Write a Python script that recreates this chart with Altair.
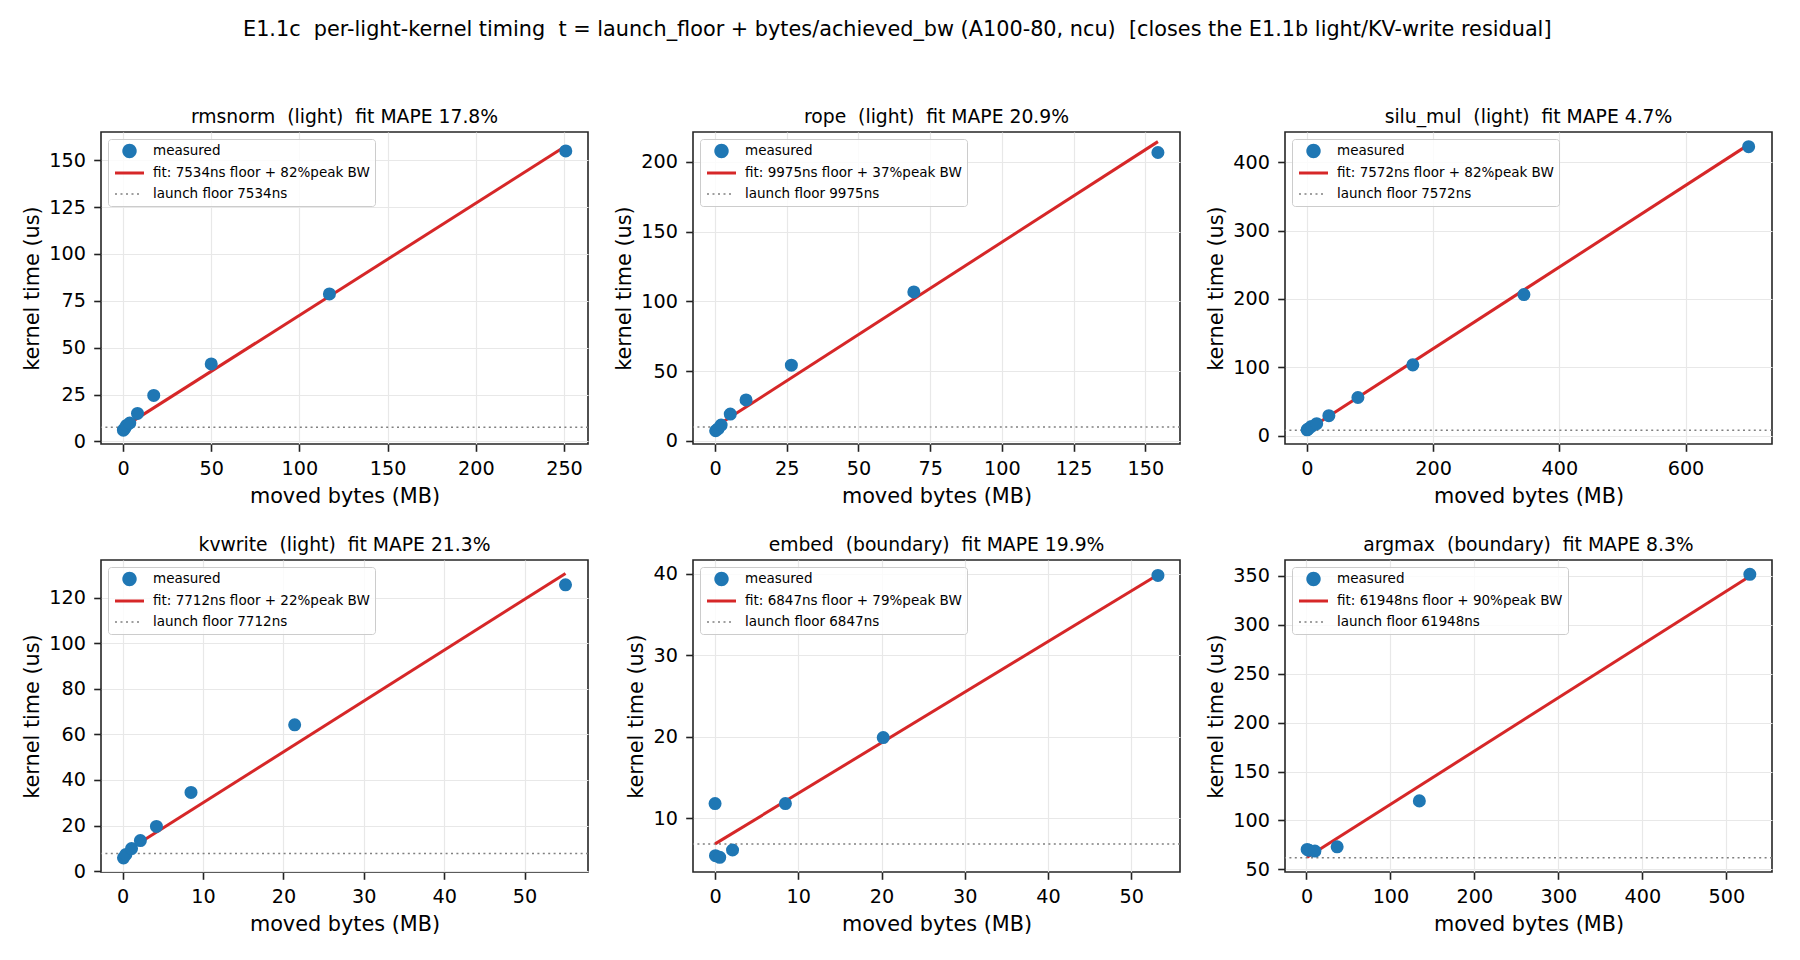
import altair as alt
import pandas as pd

FONT = "DejaVu Sans"
BLUE, RED, GRAY = "#1f77b4", "#d62728", "#808080"
NB2 = " \u00a0"  # keeps the double spaces of the original titles visible

SUPTITLE = ("E1.1c  per-light-kernel timing  t = launch_floor + bytes/achieved_bw "
            "(A100-80, ncu)  [closes the E1.1b light/KV-write residual]")

# ---- per-panel metadata ----
names = ["rmsnorm", "rope", "silu_mul", "kvwrite", "embed", "argmax"]
kinds = ["light", "light", "light", "light", "boundary", "boundary"]
mape = ["17.8", "20.9", "4.7", "21.3", "19.9", "8.3"]
floor_ns = [7534, 9975, 7572, 7712, 6847, 61948]
peak_pct = [82, 37, 82, 22, 79, 90]

# ---- measured points (moved MB, kernel us) ----
rms_x = [0.2, 1.0, 2.0, 3.8, 8.2, 17.4, 50.0, 117.0, 251.0]
rms_y = [6.0, 7.0, 8.5, 9.8, 14.9, 24.5, 41.3, 78.7, 155.0]
rope_x = [0.2, 1.0, 2.1, 5.3, 10.8, 26.6, 69.3, 154.4]
rope_y = [7.2, 8.5, 11.3, 19.2, 29.3, 54.2, 106.8, 206.8]
silu_x = [0.5, 2.0, 7.3, 15.7, 35.0, 81.0, 168.0, 344.0, 700.0]
silu_y = [8.4, 9.5, 13.3, 17.3, 29.0, 55.7, 103.5, 206.5, 423.0]
kv_x = [0.1, 0.4, 1.1, 2.2, 4.2, 8.5, 21.4, 55.1]
kv_y = [5.8, 7.3, 9.9, 13.4, 19.6, 34.5, 64.2, 125.6]
emb_x = [0.0, 0.05, 0.56, 2.1, 8.45, 20.2, 53.2]
emb_y = [11.8, 5.4, 5.2, 6.1, 11.8, 19.9, 39.8]
arg_x = [0.8, 3.0, 10.0, 36.5, 134.4, 528.0]
arg_y = [70.4, 69.5, 68.7, 73.1, 120.0, 351.7]

# ---- fit line end points ----
fit_x = [[0.2, 251.0], [0.2, 154.4], [0.5, 700.0], [0.1, 55.1], [0.0, 53.2], [0.8, 528.0]]
fit_y = [[7.6, 157.6], [10.2, 214.6], [7.9, 426.0], [7.9, 130.6], [6.85, 39.9], [62.4, 349.7]]

# ---- axes ----
x_dom = [[-12.5, 263.6], [-7.7, 162.1], [-34.5, 737.0], [-2.7, 57.9], [-2.65, 55.85], [-25.6, 554.4]]
y_dom = [[-1.4, 165.1], [-2.3, 221.5], [-12.4, 444.5], [-0.4, 136.5], [3.4, 41.7], [47.3, 366.3]]
x_ticks = [[0, 50, 100, 150, 200, 250], [0, 25, 50, 75, 100, 125, 150], [0, 200, 400, 600],
           [0, 10, 20, 30, 40, 50], [0, 10, 20, 30, 40, 50], [0, 100, 200, 300, 400, 500]]
y_ticks = [[0, 25, 50, 75, 100, 125, 150], [0, 50, 100, 150, 200], [0, 100, 200, 300, 400],
           [0, 20, 40, 60, 80, 100, 120], [10, 20, 30, 40], [50, 100, 150, 200, 250, 300, 350]]

xs_all = [rms_x, rope_x, silu_x, kv_x, emb_x, arg_x]
ys_all = [rms_y, rope_y, silu_y, kv_y, emb_y, arg_y]

# ---- legend symbol shapes (custom paths, unit = sqrt(size)/2) ----
SYM_SIZE = 170
U = (SYM_SIZE ** 0.5) / 2.0
CX = 9.5 / U
R = 7.2 / U
HALF_LEN = 14.5 / U
SYM_CIRCLE = (f"M{CX + R:.3f},0A{R:.3f},{R:.3f},0,1,1,{CX - R:.3f},0"
              f"A{R:.3f},{R:.3f},0,1,1,{CX + R:.3f},0Z")
lt = 1.5 / U
SYM_LINE = (f"M{CX - HALF_LEN:.3f},{-lt:.3f}H{CX + HALF_LEN:.3f}V{lt:.3f}"
            f"H{CX - HALF_LEN:.3f}Z")
dt = 0.75 / U
dl = 2.0 / U
per = 5.5 / U
parts = []
s = CX - HALF_LEN
while s + dl <= CX + HALF_LEN + 1e-6:
    parts.append(f"M{s:.3f},{-dt:.3f}H{s + dl:.3f}V{dt:.3f}H{s:.3f}Z")
    s += per
SYM_DOTS = "".join(parts)


def keep_spaces(t):
    return t.replace("  ", NB2)


def panel(i):
    lab_m = "measured"
    lab_f = f"fit: {floor_ns[i]}ns floor + {peak_pct[i]}%peak BW"
    lab_l = f"launch floor {floor_ns[i]}ns"
    dom = [lab_m, lab_f, lab_l]

    pts = pd.DataFrame({"x": xs_all[i], "y": ys_all[i], "s": lab_m})
    fit = pd.DataFrame({"x": fit_x[i], "y": fit_y[i], "s": lab_f})
    flo = pd.DataFrame({"y": [floor_ns[i] / 1000.0], "s": lab_l})

    legend = alt.Legend(
        title=None, orient="top-left", offset=7, padding=5, rowPadding=7,
        labelOffset=26, symbolSize=SYM_SIZE, symbolStrokeWidth=0, symbolOpacity=1,
        labelFont=FONT, labelFontSize=13.5, labelColor="black", labelLimit=500,
        fillColor="rgba(255,255,255,0.8)", strokeColor="#cccccc", cornerRadius=3,
    )
    color = alt.Color("s:N", scale=alt.Scale(domain=dom, range=[BLUE, RED, GRAY]), legend=legend)
    shape = alt.Shape("s:N", scale=alt.Scale(domain=dom, range=[SYM_CIRCLE, SYM_LINE, SYM_DOTS]),
                      legend=legend)

    xenc = alt.X("x:Q", scale=alt.Scale(domain=x_dom[i], nice=False, zero=False),
                 axis=alt.Axis(values=x_ticks[i], title="moved bytes (MB)"))
    yenc = alt.Y("y:Q", scale=alt.Scale(domain=y_dom[i], nice=False, zero=False),
                 axis=alt.Axis(values=y_ticks[i], title="kernel time (us)"))

    legend_layer = (alt.Chart(pts).mark_point(filled=True)
                    .encode(x=xenc, y=yenc, color=color, shape=shape)
                    .transform_filter("false"))
    floor_layer = (alt.Chart(flo).mark_rule(strokeWidth=1.5, strokeDash=[2, 3.4])
                   .encode(y=yenc, color=color))
    fit_layer = alt.Chart(fit).mark_line(strokeWidth=3).encode(x=xenc, y=yenc, color=color)
    pt_layer = (alt.Chart(pts).mark_circle(size=170, opacity=1)
                .encode(x=xenc, y=yenc, color=color))

    title = keep_spaces(f"{names[i]}  ({kinds[i]})  fit MAPE {mape[i]}%")
    return alt.layer(legend_layer, floor_layer, fit_layer, pt_layer).properties(
        width=487, height=312,
        title=alt.TitleParams(title, font=FONT, fontSize=18.75, fontWeight="normal",
                              color="black", anchor="middle", offset=5),
    )


chart = alt.concat(
    *[panel(i) for i in range(6)],
    columns=3,
    spacing={"row": 116, "column": 105},
    bounds="flush",
    title=alt.TitleParams(keep_spaces(SUPTITLE), font=FONT, fontSize=20.8, fontWeight="normal",
                          color="black", anchor="middle", offset=67),
    padding={"left": 20, "top": 18, "right": 10, "bottom": 10},
    background="white",
).resolve_scale(
    color="independent", shape="independent", x="independent", y="independent"
).resolve_legend(
    color="independent", shape="independent"
).configure_axis(
    labelFont=FONT, labelFontSize=19.2, labelColor="black", labelPadding=8.3,
    tickColor="#222222", tickSize=7.3, tickWidth=1.6, domain=False,
    grid=True, gridColor="#e8e8e8", gridWidth=1.2,
    titleFont=FONT, titleFontSize=20.8, titleFontWeight="normal", titleColor="black",
    titlePadding=6,
).configure_axisX(
    titlePadding=8,
).configure_view(
    stroke="#262626", strokeWidth=1.6,
)

chart.save("out.html", embed_options={"renderer": "svg", "actions": False})
